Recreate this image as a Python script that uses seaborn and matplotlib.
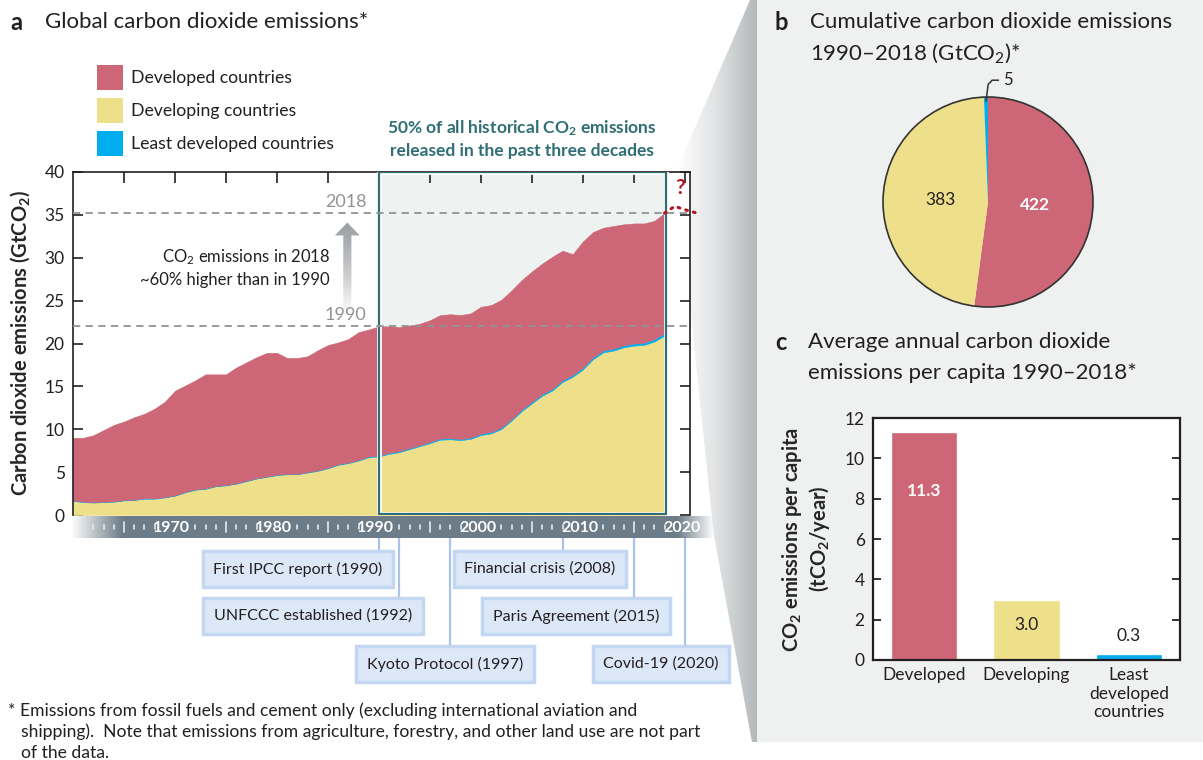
import numpy as np
import pandas as pd
import seaborn as sns
import matplotlib.pyplot as plt
import matplotlib.transforms as mtransforms
from matplotlib.patches import Rectangle, Polygon, Circle, FancyArrow
from matplotlib.colors import LinearSegmentedColormap, to_rgb

# ---- data ----
years = list(range(1960, 2019))
developed = [7.3, 7.45, 7.8, 8.35, 8.9, 9.15, 9.6, 9.85, 10.45, 11.1,
             12.2, 12.4, 12.7, 13.3, 13.0, 12.9, 13.5, 13.8, 14.1, 14.4,
             14.2, 13.5, 13.5, 13.5, 14.0, 14.3, 14.2, 14.4, 14.9, 14.8,
             15.05, 14.75, 14.45, 14.3, 14.15, 14.2, 14.4, 14.45, 14.45, 14.5,
             14.8, 14.8, 14.9, 15.0, 15.1, 15.2, 15.2, 15.4, 15.1, 14.1,
             14.7, 14.6, 14.3, 14.3, 14.1, 14.0, 13.9, 13.8, 14.0]
developing = [1.65, 1.5, 1.45, 1.5, 1.55, 1.7, 1.75, 1.9, 1.9, 2.05,
              2.25, 2.65, 2.95, 3.05, 3.35, 3.45, 3.65, 3.95, 4.25, 4.45,
              4.65, 4.75, 4.75, 4.95, 5.15, 5.45, 5.85, 6.05, 6.35, 6.75,
              6.83, 7.13, 7.33, 7.68, 8.03, 8.38, 8.78, 8.83, 8.73, 8.88,
              9.32, 9.52, 10.02, 11.02, 12.12, 13.02, 13.92, 14.52, 15.52, 16.12,
              16.98, 18.18, 18.97, 19.17, 19.56, 19.75, 19.84, 20.23, 20.92]
least_developed = [0.05, 0.05, 0.05, 0.05, 0.05, 0.05, 0.05, 0.05, 0.05, 0.05,
                   0.05, 0.05, 0.05, 0.05, 0.05, 0.05, 0.05, 0.05, 0.05, 0.05,
                   0.06, 0.06, 0.06, 0.06, 0.06, 0.07, 0.07, 0.07, 0.07, 0.08,
                   0.12, 0.12, 0.12, 0.12, 0.12, 0.13, 0.13, 0.13, 0.14, 0.14,
                   0.16, 0.16, 0.17, 0.17, 0.18, 0.18, 0.19, 0.19, 0.2, 0.2,
                   0.22, 0.22, 0.23, 0.23, 0.24, 0.25, 0.26, 0.27, 0.28]

groups = ["Developed countries", "Developing countries", "Least developed countries"]
colors = ["#cd6677", "#eedf8a", "#00aeef"]

cumulative = [422, 383, 5]           # GtCO2 1990-2018
bar_labels = ["Developed", "Developing", "Least\ndeveloped\ncountries"]
per_capita = [11.3, 3.0, 0.3]

events = ["First IPCC report (1990)", "UNFCCC established (1992)", "Kyoto Protocol (1997)",
          "Financial crisis (2008)", "Paris Agreement (2015)", "Covid-19 (2020)"]
event_years = [1990, 1992, 1997, 2008, 2015, 2020]

proj_years = [2018, 2019, 2020, 2021.5]
proj_vals = [35.2, 36.0, 35.6, 35.1]

# ---- layout / style ----
W, H = 1203, 760
DARK = "#231f20"
sns.set_style("white")
plt.rcParams["font.family"] = ["Lato", "DejaVu Sans"]
plt.rcParams["mathtext.fontset"] = "custom"
plt.rcParams["mathtext.rm"] = "Lato"
plt.rcParams["mathtext.bf"] = "Lato:bold"
plt.rcParams["mathtext.it"] = "Lato:italic"
plt.rcParams["text.color"] = DARK

fig = plt.figure(figsize=(W / 100, H / 100), dpi=100)


def px_axes(x0, y0, x1, y1):
    return fig.add_axes([x0 / W, 1 - y1 / H, (x1 - x0) / W, (y1 - y0) / H])


# background overlay in pixel coordinates
bg = px_axes(0, 0, W, H)
bg.axis("off")
bg.set_zorder(-1)
bg.add_patch(Rectangle((757, 0), W - 757, 742, fc="#eef1f0", ec="none"))
shade = Polygon([(676, 172), (750, 0), (757, 0), (757, 742), (752, 742), (714, 536)],
                closed=True, fc="none", ec="none")
bg.add_patch(shade)
cm = LinearSegmentedColormap.from_list("shade", ["#ffffff", "#e0e2e3", "#b5b8ba"])
im = bg.imshow(np.linspace(0, 1, 200)[None, :], cmap=cm, extent=(676, 757, 742, 0), aspect="auto")
im.set_clip_path(shade)
bg.set_xlim(0, W)
bg.set_ylim(H, 0)

# ---- panel a ----
bg.text(10, 22, "a", fontsize=17, fontweight="bold", va="center")
bg.text(45, 22, "Global carbon dioxide emissions*", fontsize=16, va="center")
for i, (g, c) in enumerate(zip(groups, colors)):
    bg.add_patch(Rectangle((97, 65 + i * 33), 26, 25, fc=c, ec="none"))
    bg.text(131, 78 + i * 33, g, fontsize=12.7, va="center")
bg.text(522, 139, "50% of all historical CO$_\\mathbf{2}$ emissions\nreleased in the past three decades",
        fontsize=12.5, fontweight="bold", color="#2f6e73", ha="center", va="center", linespacing=1.4)

ax = px_axes(73, 172, 690, 515)
ax.set_xlim(1960, 2020.5)
ax.set_ylim(0, 40)
total = np.array(developed) + np.array(developing) + np.array(least_developed)
y2018 = total[years.index(2018)]
y1990 = total[years.index(1990)]

ax.add_patch(Rectangle((1990, 0.15), 28.15, 39.85, fc="#eef2f1", ec="none", zorder=0.5))
ax.stackplot(years, developing, least_developed, developed,
             colors=[colors[1], colors[2], colors[0]], lw=0.4, edgecolor="face", zorder=1)
ax.add_patch(Rectangle((1990, 0.15), 28.15, 39.85, fc="none", ec="white", lw=3.5, zorder=3))
ax.add_patch(Rectangle((1990, 0.15), 28.15, 39.85, fc="none", ec="#2f6e73", lw=1.6, zorder=3.5))

for yv, lab in [(y2018, "2018"), (y1990, "1990")]:
    ax.axhline(yv, color="#8f9396", lw=1.3, ls=(0, (4, 3)), zorder=4)
    ax.text(1988.8, yv + 0.35, lab, fontsize=13, color="#8f9396", ha="right", va="bottom")

arrow = FancyArrow(1986.9, y1990 + 1.2, 0, y2018 - y1990 - 2.3, width=0.8, head_width=2.45,
                   head_length=1.5, length_includes_head=True, fc="none", ec="none")
ax.add_patch(arrow)
acm = LinearSegmentedColormap.from_list("arr", ["#ffffff", "#c4c6c8", "#9a9ea1"])
aim = ax.imshow(np.linspace(0, 1, 100)[:, None], cmap=acm, origin="lower",
                extent=(1985.5, 1988.3, y1990 + 1.2, y2018 - 1.1), aspect="auto", zorder=2)
aim.set_clip_path(arrow)
ax.set_xlim(1960, 2020.5)
ax.set_ylim(0, 40)
ax.text(1985.2, 28.8, "CO$_2$ emissions in 2018\n~60% higher than in 1990", fontsize=12,
        ha="right", va="center", multialignment="right", linespacing=1.4)

ax.plot(proj_years, proj_vals, color="#b3141f", lw=2.2, ls=(0, (0.6, 2.0)),
        dash_capstyle="round", clip_on=False, zorder=5)
ax.text(2019.5, 38.1, "?", fontsize=15, fontweight="bold", color="#b3141f", ha="center", va="center")

ax.set_yticks(range(0, 41, 5))
ax.set_xticks(range(1965, 2021, 5))
ax.tick_params(axis="y", direction="in", length=7, width=1.2, left=True, right=True,
               labelsize=12.5, pad=6, labelcolor=DARK, color=DARK)
ax.tick_params(axis="x", direction="in", length=8, width=1.2, top=True, bottom=False,
               labelbottom=False, color=DARK)
ax.spines["bottom"].set_visible(False)
for s in ["left", "right", "top"]:
    ax.spines[s].set_color(DARK)
    ax.spines[s].set_linewidth(1.2)
ax.set_ylabel("Carbon dioxide emissions (GtCO$_\\mathbf{2}$)", fontsize=14.5,
              fontweight="bold", labelpad=9)

# timeline band
band = px_axes(70, 516, 715, 538)
px_per_year = (690 - 73) / (2020.5 - 1960)
bx = (1960 - 3 / px_per_year, 1960 + 642 / px_per_year)
band.axis("off")
fade = np.ones(300)
fade[:25] = np.linspace(0, 1, 25)
fade[-18:] = np.linspace(1, 0, 18)
rgba = np.zeros((1, 300, 4))
rgba[..., :3] = to_rgb("#6c7c88")
rgba[0, :, 3] = fade
band.imshow(rgba, extent=(bx[0], bx[1], 0, 1), aspect="auto")
for yr in range(1961, 2021):
    if yr % 10 == 0:
        band.text(yr - 0.3, 0.47, str(yr), color="white", fontweight="bold", fontsize=11.5,
                  ha="center", va="center")
    elif yr % 10 in (1, 9):
        continue
    elif yr % 5 == 0:
        band.plot([yr, yr], [0.28, 0.72], color="#e6eaed", lw=1.2)
    else:
        band.plot([yr, yr], [0.4, 0.6], color="#e6eaed", lw=1.2)
band.set_xlim(bx)
band.set_ylim(0, 1)

# events
box_x = [298, 313, 445, 540, 576, 661]
row_y = [569, 616, 664]
rows = [0, 1, 2, 0, 1, 2]
trans = mtransforms.blended_transform_factory(band.transData, bg.transData)
for ev, yr, bxp, r in zip(events, event_years, box_x, rows):
    bg.plot([yr, yr], [538, row_y[r] - 19], color="#a9c4ea", lw=1.6, transform=trans, zorder=1)
    bg.text(bxp, row_y[r], ev, fontsize=11.5, ha="center", va="center", zorder=3,
            bbox=dict(boxstyle="square,pad=0.65", fc="#dce8f8", ec="#c3d7f2", lw=2.5))

bg.text(8, 711, "* Emissions from fossil fuels and cement only (excluding international aviation and",
        fontsize=12.6, va="center")
bg.text(21, 732, "shipping).  Note that emissions from agriculture, forestry, and other land use are not part",
        fontsize=12.6, va="center")
bg.text(21, 753, "of the data.", fontsize=12.6, va="center")

# ---- panel b ----
bg.text(775, 22, "b", fontsize=17, fontweight="bold", va="center")
bg.text(810, 22, "Cumulative carbon dioxide emissions", fontsize=16, va="center")
bg.text(810, 53, "1990\u20132018 (GtCO$_2$)*", fontsize=16, va="center")

axb = px_axes(883, 97, 1093, 307)
wedges, _ = axb.pie(cumulative, colors=colors, startangle=90, counterclock=False,
                    radius=1, wedgeprops=dict(lw=0))
axb.set_xlim(-1, 1)
axb.set_ylim(-1, 1)
axb.set_aspect("equal")
axb.add_patch(Circle((0, 0), 1, fill=False, ec="#333333", lw=1.2, clip_on=False))
for w, v, tc, fw in zip(wedges[:2], cumulative[:2], ["white", DARK], ["bold", "normal"]):
    mid = np.deg2rad((w.theta1 + w.theta2) / 2)
    axb.text(0.45 * np.cos(mid), 0.45 * np.sin(mid), str(v), color=tc, fontweight=fw,
             fontsize=12.5, ha="center", va="center")
mid = np.deg2rad((wedges[2].theta1 + wedges[2].theta2) / 2)
sx, sy = 0.96 * np.cos(mid), 0.96 * np.sin(mid)
axb.plot([sx, sx + 0.02, 0.04, 0.1], [sy, 1.12, 1.16, 1.16], color="#333333", lw=1.1, clip_on=False)
axb.text(0.14, 1.16, str(cumulative[2]), fontsize=12, ha="left", va="center")

# ---- panel c ----
bg.text(775, 342, "c", fontsize=17, fontweight="bold", va="center")
bg.text(808, 342, "Average annual carbon dioxide", fontsize=16, va="center")
bg.text(808, 373, "emissions per capita 1990\u20132018*", fontsize=16, va="center")

axc = px_axes(873, 418, 1180, 660)
df = pd.DataFrame({"group": bar_labels, "value": per_capita})
sns.barplot(data=df, x="group", y="value", hue="group", palette=colors, width=0.65,
            saturation=1, legend=False, ax=axc)
axc.set_xlim(-0.5, 2.5)
axc.set_ylim(0, 12)
axc.set_yticks(range(0, 13, 2))
axc.tick_params(axis="y", direction="in", length=6, width=1.3, left=True, right=True,
                labelsize=12.5, pad=6, color=DARK, labelcolor=DARK)
axc.tick_params(axis="x", length=0, labelsize=12.5, pad=5, labelcolor=DARK)
axc.set_xlabel("")
axc.set_ylabel("CO$_\\mathbf{2}$ emissions per capita\n(tCO$_\\mathbf{2}$/year)", fontsize=14.5,
               fontweight="bold", labelpad=9, linespacing=1.15)
for s in axc.spines.values():
    s.set_color(DARK)
    s.set_linewidth(1.6)
for i, v in enumerate(per_capita):
    if v > 5:
        axc.text(i, v - 2.9, f"{v:.1f}", color="white", fontweight="bold", fontsize=12.5,
                 ha="center", va="center")
    elif v > 1:
        axc.text(i, v - 1.25, f"{v:.1f}", fontsize=12.5, ha="center", va="center")
    else:
        axc.text(i, v + 0.9, f"{v:.1f}", fontsize=12.5, ha="center", va="center")

fig.savefig("out.png", dpi=100, facecolor="white")
